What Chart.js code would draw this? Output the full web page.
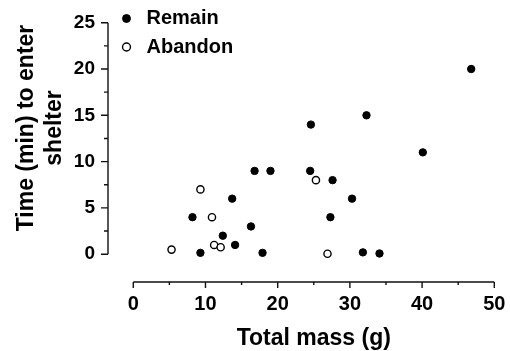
<!DOCTYPE html>
<html>
<head>
<meta charset="utf-8">
<title>Time to enter shelter vs total mass</title>
<script src="https://cdn.jsdelivr.net/npm/chart.js@4.4.0/dist/chart.umd.min.js"></script>
<style>
  html, body { margin: 0; padding: 0; background: #fff; }
  #chart { display: block; }
</style>
</head>
<body>
<canvas id="chart" width="510" height="351"></canvas>
<script>
// Values
const remainMass = [8.2, 9.3, 12.4, 13.7, 14.1, 16.3, 16.8, 17.9, 19.0, 24.6, 24.5, 27.6, 27.3, 30.3, 32.3, 31.8, 34.1, 40.1, 46.8];
const remainTime = [4, 0.15, 2, 6, 1, 3, 9, 0.15, 9, 14, 9, 8, 4, 6, 15, 0.2, 0.08, 11, 20];
const abandonMass = [5.3, 9.3, 10.9, 11.2, 12.1, 25.3, 26.9];
const abandonTime = [0.5, 7, 4, 1, 0.75, 8, 0.05];

const xTicks = [0, 10, 20, 30, 40, 50];
const yTicks = [0, 5, 10, 15, 20, 25];
const xTitle = 'Total mass (g)';
const yTitle = ['Time (min) to enter', 'shelter'];

const FONT = '"Liberation Sans", Arial, Helvetica, sans-serif';

function toPoints(xs, ys) {
    return xs.map((x, i) => ({ x: x, y: ys[i] }));
}

// Axes are detached from each other, so the lines, tick marks and
// titles are drawn here from the scales instead of the default border.
const axisPlugin = {
    id: 'detachedAxes',
    afterDraw(chart) {
        const ctx = chart.ctx;
        const xs = chart.scales.x;
        const ys = chart.scales.y;
        const area = chart.chartArea;
        const xFirst = xTicks[0], xLast = xTicks[xTicks.length - 1];
        const yFirst = yTicks[0], yLast = yTicks[yTicks.length - 1];

        ctx.save();
        ctx.strokeStyle = '#111';
        ctx.lineWidth = 1.4;

        // x axis
        const xb = area.bottom;
        ctx.beginPath();
        ctx.moveTo(xs.getPixelForValue(xFirst), xb);
        ctx.lineTo(xs.getPixelForValue(xLast), xb);
        xs.ticks.forEach(t => {
            const px = xs.getPixelForValue(t.value);
            const len = xTicks.includes(t.value) ? 6 : 3;
            ctx.moveTo(px, xb);
            ctx.lineTo(px, xb + len);
        });
        ctx.stroke();

        // y axis
        const yl = area.left;
        ctx.beginPath();
        ctx.moveTo(yl, ys.getPixelForValue(yFirst));
        ctx.lineTo(yl, ys.getPixelForValue(yLast));
        ys.ticks.forEach(t => {
            const py = ys.getPixelForValue(t.value);
            const len = yTicks.includes(t.value) ? 7 : 4;
            ctx.moveTo(yl, py);
            ctx.lineTo(yl - len, py);
        });
        ctx.stroke();

        // axis titles
        ctx.fillStyle = '#000';
        ctx.font = 'bold 23px ' + FONT;
        ctx.textAlign = 'center';
        ctx.textBaseline = 'alphabetic';
        ctx.fillText(xTitle, (xs.getPixelForValue(xFirst) + xs.getPixelForValue(xLast)) / 2, 345);

        ctx.translate(33, 128);
        ctx.rotate(-Math.PI / 2);
        yTitle.forEach((line, i) => ctx.fillText(line, 0, i * 27.5));
        ctx.restore();
    }
};

const ctx = document.getElementById('chart');

new Chart(ctx, {
    type: 'scatter',
    data: {
        datasets: [
            {
                label: 'Remain',
                data: toPoints(remainMass, remainTime),
                pointStyle: 'circle',
                pointRadius: 3.7,
                pointBorderWidth: 1,
                backgroundColor: '#000',
                borderColor: '#000'
            },
            {
                label: 'Abandon',
                data: toPoints(abandonMass, abandonTime),
                pointStyle: 'circle',
                pointRadius: 3.6,
                pointBorderWidth: 1.4,
                backgroundColor: '#fff',
                borderColor: '#000'
            }
        ]
    },
    options: {
        responsive: false,
        animation: false,
        devicePixelRatio: 1,
        layout: {
            padding: { left: 0, right: 15.7, top: 3.2, bottom: 0 }
        },
        plugins: {
            tooltip: { enabled: false },
            legend: {
                position: 'chartArea',
                align: 'start',
                labels: {
                    usePointStyle: true,
                    boxWidth: 20,
                    boxHeight: 5.6,
                    padding: 8.5,
                    color: '#000',
                    font: { family: FONT, size: 20, weight: 'bold', lineHeight: 1 }
                }
            }
        },
        scales: {
            x: {
                type: 'linear',
                min: -3.5,
                max: 50,
                grid: { display: false, drawTicks: false },
                border: { display: false },
                ticks: {
                    stepSize: 5,
                    includeBounds: false,
                    padding: 12,
                    color: '#000',
                    maxRotation: 0,
                    autoSkip: false,
                    font: { family: FONT, size: 20, weight: 'bold', lineHeight: 1 },
                    callback: v => (xTicks.includes(v) ? String(v) : '')
                },
                afterBuildTicks: s => {
                    s.ticks = s.ticks.filter(t => t.value >= 0 && t.value <= 50);
                },
                afterFit: s => {
                    s.height = 69;
                    s.paddingLeft = 0;
                    s.paddingRight = 0;
                }
            },
            y: {
                type: 'linear',
                min: -3,
                max: 26.87,
                grid: { display: false, drawTicks: false },
                border: { display: false },
                ticks: {
                    stepSize: 2.5,
                    includeBounds: false,
                    padding: 13,
                    color: '#000',
                    autoSkip: false,
                    font: { family: FONT, size: 19, weight: 'bold', lineHeight: 1 },
                    callback: v => (yTicks.includes(v) ? String(v) : '')
                },
                afterBuildTicks: s => {
                    s.ticks = s.ticks.filter(t => t.value >= 0 && t.value <= 25);
                },
                afterFit: s => {
                    s.width = 108;
                    s.paddingTop = 0;
                    s.paddingBottom = 0;
                }
            }
        }
    },
    plugins: [axisPlugin]
});
</script>
</body>
</html>
